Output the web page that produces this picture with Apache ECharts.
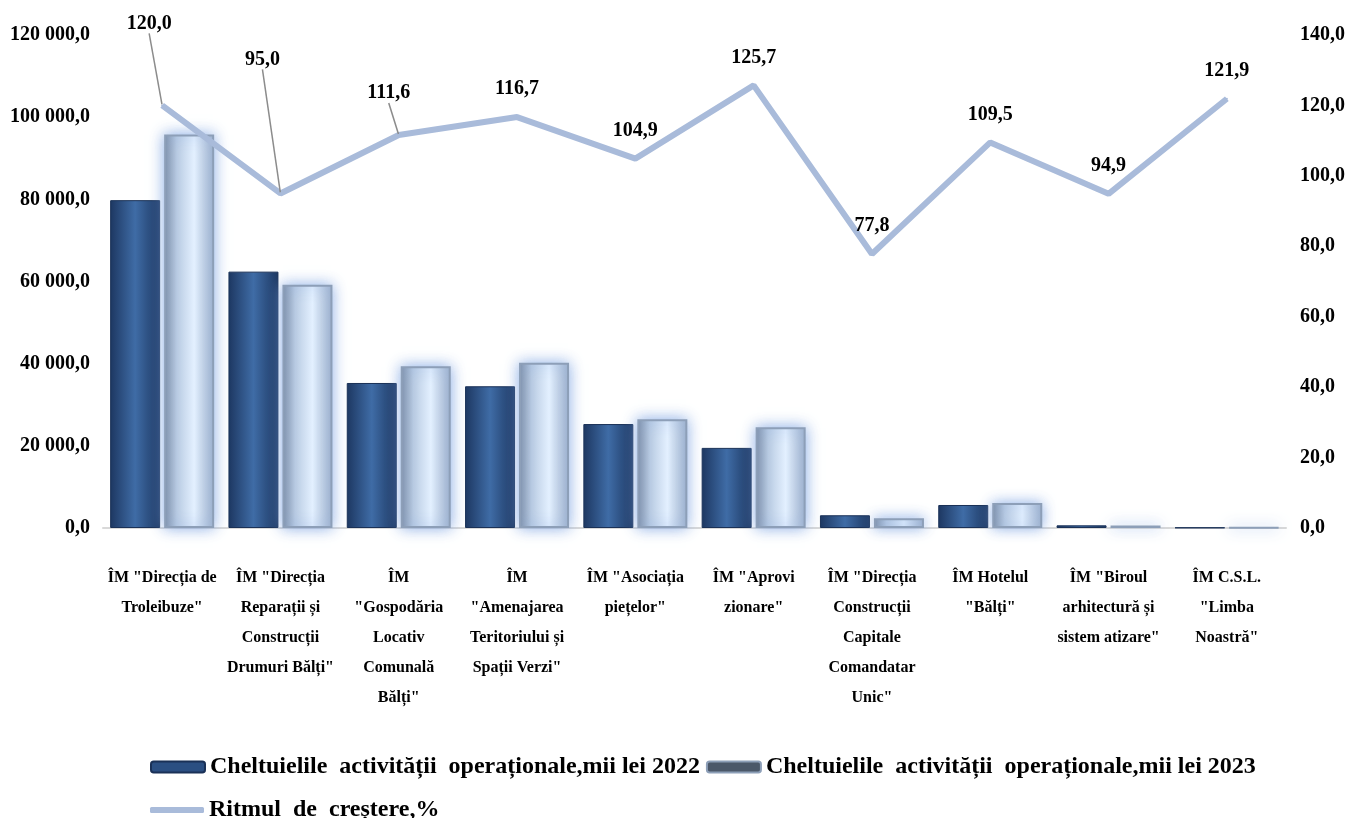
<!DOCTYPE html>
<html>
<head>
<meta charset="utf-8">
<script src="https://cdn.jsdelivr.net/npm/echarts@6/dist/echarts.min.js"></script>
<style>
  html, body { margin: 0; padding: 0; background: #fff; }
  #chart { width: 1349px; height: 818px; }
</style>
</head>
<body>
<div id="chart"></div>
<script>
  var categories = [
    'ÎM "Direcția de\nTroleibuze"',
    'ÎM "Direcția\nReparații și\nConstrucții\nDrumuri Bălți"',
    'ÎM\n"Gospodăria\nLocativ\nComunală\nBălți"',
    'ÎM\n"Amenajarea\nTeritoriului și\nSpații Verzi"',
    'ÎM "Asociația\npiețelor"',
    'ÎM "Aprovi\nzionare"',
    'ÎM "Direcția\nConstrucții\nCapitale\nComandatar\nUnic"',
    'ÎM Hotelul\n"Bălți"',
    'ÎM "Biroul\narhitectură și\nsistem atizare"',
    'ÎM C.S.L.\n"Limba\nNoastră"'
  ];
  var spend2022 = [79800, 62400, 35300, 34500, 25300, 19500, 3100, 5600, 650, 100];
  var spend2023 = [95800, 59200, 39400, 40200, 26500, 24500, 2400, 6100, 620, 122];
  var growth = [120.0, 95.0, 111.6, 116.7, 104.9, 125.7, 77.8, 109.5, 94.9, 121.9];

  var name2022 = 'Cheltuielile  activității  operaționale,mii lei 2022';
  var name2023 = 'Cheltuielile  activității  operaționale,mii lei 2023';
  var nameGrowth = 'Ritmul  de  creștere,%';

  // label shifts for the growth line (px), leader lines on the first three
  var labelShift = [[-13, -54], [-18, -106], [-10, -14], [0, 0], [0, 0], [0, 0], [0, 0], [0, 0], [0, 0], [0, 0]];

  var serif = '"Liberation Serif", "Times New Roman", serif';

  function fmtLeft(v) {
    var s = String(Math.round(v)).replace(/\B(?=(\d{3})+(?!\d))/g, ' ');
    return s + ',0';
  }

  var chart = echarts.init(document.getElementById('chart'));

  var bar2022Color = new echarts.graphic.LinearGradient(0, 0, 1, 0, [
    { offset: 0, color: '#1d3761' },
    { offset: 0.5, color: '#3f6ca6' },
    { offset: 1, color: '#1d3761' }
  ]);
  var bar2023Color = new echarts.graphic.LinearGradient(0, 0, 1, 0, [
    { offset: 0, color: '#7f8fa6' },
    { offset: 0.25, color: '#b9cbe2' },
    { offset: 0.6, color: '#e3f0ff' },
    { offset: 1, color: '#9fb1cb' }
  ]);

  chart.setOption({
    animation: false,
    textStyle: { fontFamily: serif },
    grid: { left: 103, right: 63, top: 35, bottom: 290 },
    legend: [
      {
        left: 145, top: 750,
        itemWidth: 54, itemHeight: 11, itemGap: 6,
        textStyle: { fontFamily: serif, fontWeight: 'bold', fontSize: 24, color: '#000' },
        data: [
          { name: name2022, itemStyle: { color: '#2b4f82' } },
          { name: name2023, itemStyle: { color: '#4b5869' } }
        ]
      },
      {
        left: 145, top: 793,
        itemWidth: 54, itemHeight: 6,
        textStyle: { fontFamily: serif, fontWeight: 'bold', fontSize: 24, color: '#000' },
        data: [{ name: nameGrowth, icon: 'roundRect', itemStyle: { color: '#a9bbda' } }]
      }
    ],
    xAxis: {
      type: 'category',
      data: categories,
      axisLine: { lineStyle: { color: '#d9d9d9', width: 2 } },
      axisTick: { show: false },
      axisLabel: {
        interval: 0,
        margin: 35,
        color: '#000',
        fontFamily: serif,
        fontWeight: 'bold',
        fontSize: 16,
        lineHeight: 30
      }
    },
    yAxis: [
      {
        type: 'value', min: 0, max: 120000, interval: 20000,
        splitLine: { show: false },
        axisLine: { show: false },
        axisTick: { show: false },
        axisLabel: {
          margin: 13, color: '#000', fontFamily: serif, fontWeight: 'bold', fontSize: 20,
          formatter: fmtLeft
        }
      },
      {
        type: 'value', min: 0, max: 140, interval: 20,
        splitLine: { show: false },
        axisLine: { show: false },
        axisTick: { show: false },
        axisLabel: {
          margin: 14, color: '#000', fontFamily: serif, fontWeight: 'bold', fontSize: 20,
          formatter: function (v) { return v.toFixed(1).replace('.', ','); }
        }
      }
    ],
    series: [
      {
        name: name2022,
        type: 'bar',
        data: spend2022,
        barWidth: 50,
        barGap: '8%',
        itemStyle: { color: bar2022Color, borderColor: '#1a3157', borderWidth: 1 }
      },
      {
        name: name2023,
        type: 'bar',
        data: spend2023,
        barWidth: 50,
        itemStyle: {
          color: bar2023Color,
          borderColor: '#8d9fb8',
          borderWidth: 2,
          shadowBlur: 14,
          shadowColor: 'rgba(120,160,225,0.85)'
        }
      },
      {
        name: nameGrowth,
        type: 'line',
        yAxisIndex: 1,
        z: 5,
        data: growth.map(function (v, i) {
          return { value: v, labelLine: { show: i < 3 } };
        }),
        symbol: 'circle',
        symbolSize: 2,
        itemStyle: { color: '#a9bbda' },
        lineStyle: { color: '#a9bbda', width: 6 },
        label: {
          show: true,
          position: 'top',
          distance: 17,
          color: '#000',
          fontFamily: serif,
          fontWeight: 'bold',
          fontSize: 20,
          formatter: function (p) { return p.value.toFixed(1).replace('.', ','); }
        },
        labelLine: { show: false, lineStyle: { color: '#8c8c8c', width: 1.5 } },
        labelLayout: function (p) {
          var s = labelShift[p.dataIndex];
          return { dx: s[0], dy: s[1] };
        }
      }
    ]
  });
</script>
</body>
</html>
